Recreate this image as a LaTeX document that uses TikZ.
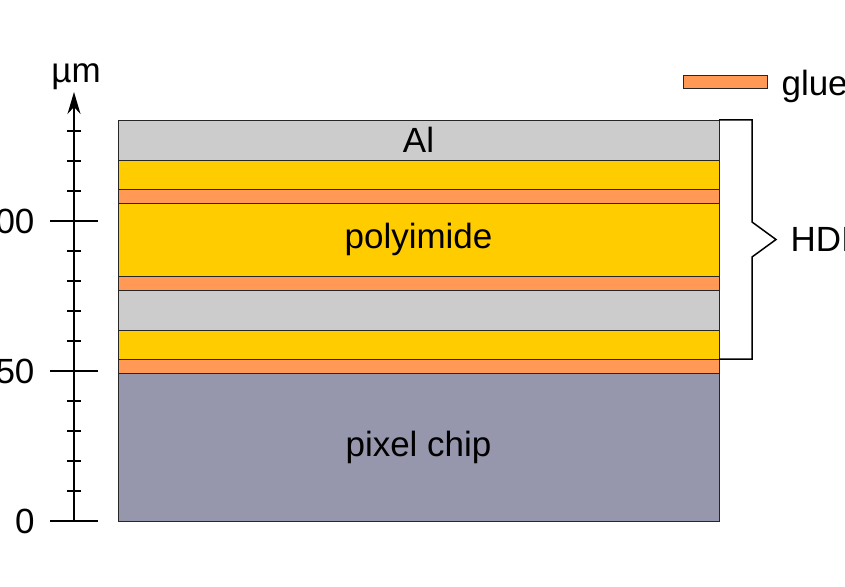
\documentclass[tikz,border=0pt]{standalone}
\usepackage{fontspec}
\setmainfont{Liberation Sans}
\usetikzlibrary{arrows.meta}
\definecolor{alugray}{RGB}{204,204,204}
\definecolor{pigold}{RGB}{255,204,0}
\definecolor{glueorange}{RGB}{255,153,85}
\definecolor{chipgray}{RGB}{150,150,172}

\begin{document}
\begin{tikzpicture}[x=1pt,y=3pt,
  layer/.style={draw=black!85,line width=0.8pt},
  axisline/.style={line width=1.5pt},
  lbl/.style={font=\fontsize{35}{42}\selectfont}]
  \useasboundingbox (0,-21.67) rectangle (845,173.67);
  % thickness axis
  \draw[axisline,-{Stealth[length=22pt,width=13pt,inset=7pt]}](74,0)--(74,143);
  \foreach \t in {10,20,30,40,60,70,80,90,110,120,130}
    \draw[axisline](67,\t)--(81,\t);
  \foreach \t in {0,50,100}{
    \draw[axisline](50,\t)--(98,\t);
    \node[lbl,anchor=east] (tick\t) at(38,\t){\t};}
  \node[lbl,anchor=base] (unit) at(76,146.3){µm};
  % stack, bottom to top
  \filldraw[layer,fill=chipgray](118,0)rectangle(719,49.33);
  \filldraw[layer,fill=glueorange](118,49.33)rectangle(719,54);
  \filldraw[layer,fill=pigold](118,54)rectangle(719,63.67);
  \filldraw[layer,fill=alugray](118,63.67)rectangle(719,77);
  \filldraw[layer,fill=glueorange](118,77)rectangle(719,81.67);
  \filldraw[layer,fill=pigold](118,81.67)rectangle(719,106);
  \filldraw[layer,fill=glueorange](118,106)rectangle(719,110.67);
  \filldraw[layer,fill=pigold](118,110.67)rectangle(719,120.33);
  \filldraw[layer,fill=alugray](118,120.33)rectangle(719,133.67);
  \node[lbl] (chip) at(418.5,24.67){pixel chip};
  \node[lbl] (kapton) at(418.5,93.83){polyimide};
  \node[lbl] (alu) at(418.5,127){Al};
  % HDI brace
  \draw[axisline,line join=miter](719,133.67)--(752,133.67)--(752,99.67)--(776,93.83)
    --(752,88)--(752,54)--(719,54);
  \node[lbl,anchor=base west] (hdi) at(787,89.67){HDI};
  % legend
  \filldraw[layer,fill=glueorange](683,144.33)rectangle(767,148.67);
  \node[lbl,anchor=base west] (gluekey) at(778,142){glue};
\end{tikzpicture}
\end{document}
